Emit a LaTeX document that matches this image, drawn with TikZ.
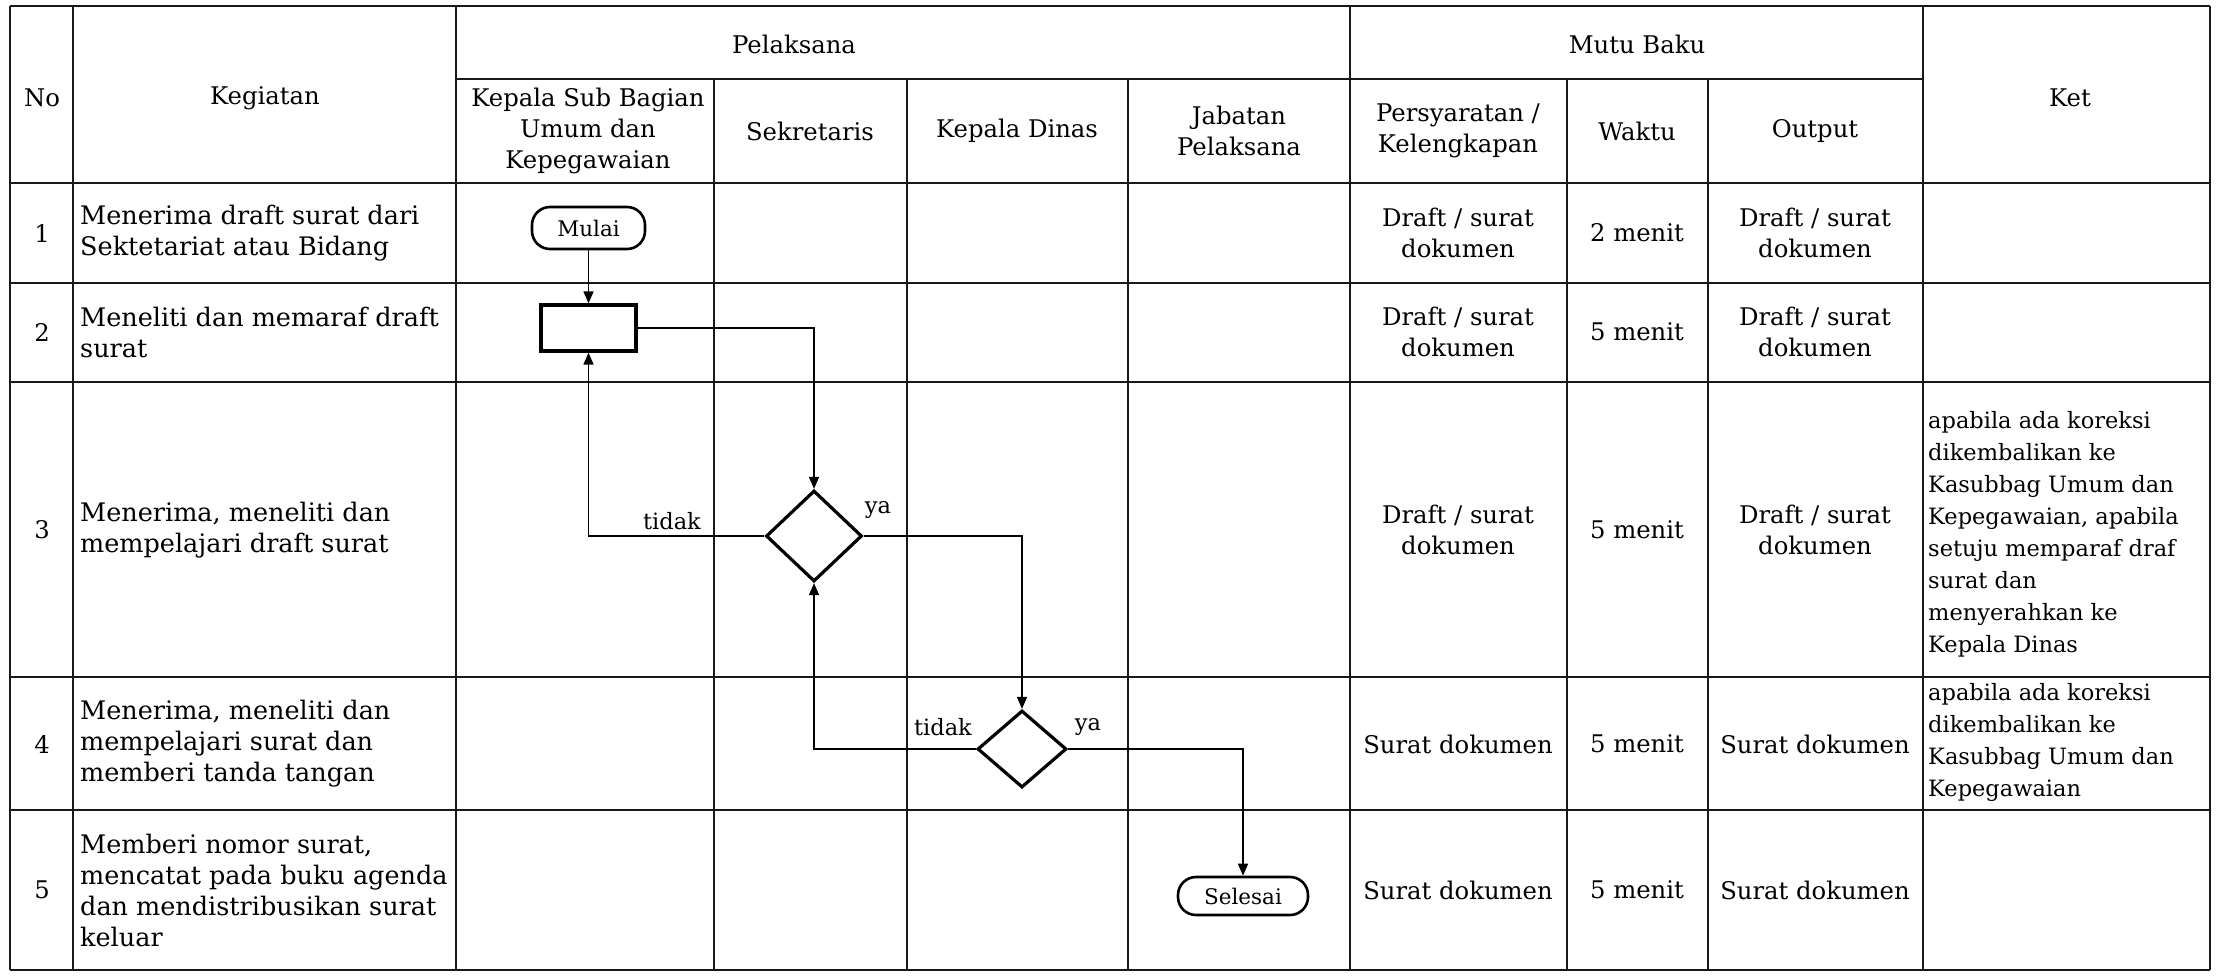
\documentclass[tikz,border=0pt]{standalone}
\usepackage{fontspec}
\setmainfont{DejaVu Serif}
\usetikzlibrary{arrows.meta,shapes.geometric}
\begin{document}
\begin{tikzpicture}[x=1pt,y=-1pt,
  grid/.style={line width=1.9pt, draw=black!90},
  txt/.style={font=\fontsize{24.3}{31}\selectfont, inner sep=0pt, align=center},
  ltxt/.style={font=\fontsize{25.5}{31}\selectfont, inner sep=0pt, align=left, anchor=west},
  ktxt/.style={font=\fontsize{22.5}{32}\selectfont, inner sep=0pt, align=left, anchor=west},
  lbl/.style={font=\fontsize{22.5}{25}\selectfont, inner sep=0pt},
  term/.style={draw, line width=2.6pt, rounded corners=18pt, font=\fontsize{21.5}{25}\selectfont, inner sep=0pt},
  proc/.style={draw, line width=3.2pt, minimum width=95pt, minimum height=46pt, inner sep=0pt},
  dec/.style={draw, diamond, line width=3.2pt, inner sep=0pt},
  conn/.style={line width=1.5pt, -{Triangle[width=10pt,length=12pt]}}]
\useasboundingbox (0,0) rectangle (2218,975);
% table grid
\foreach \yy in {6,183,283,382,677,810,970} \draw[grid] (10,\yy) -- (2210,\yy);
\draw[grid] (456,79) -- (1923,79);
\foreach \xx in {10,73,456,1350,1923,2210} \draw[grid] (\xx,6) -- (\xx,970);
\foreach \xx in {714,907,1128,1567,1708} \draw[grid] (\xx,79) -- (\xx,970);
% headers
\node[txt] (hno) at (42,98) {No};
\node[txt] (hkeg) at (265,98) {Kegiatan};
\node[txt] (hpel) at (794,44) {Pelaksana};
\node[txt] (hmutu) at (1637,44) {Mutu Baku};
\node[txt] (hket) at (2070,98) {Ket};
\node[txt] (hksb) at (588,131) {Kepala Sub Bagian\\Umum dan\\Kepegawaian};
\node[txt] (hsek) at (810,131) {Sekretaris};
\node[txt] (hkd) at (1017,131) {Kepala Dinas};
\node[txt] (hjab) at (1239,131) {Jabatan\\Pelaksana};
\node[txt] (hpers) at (1458,131) {Persyaratan /\\Kelengkapan};
\node[txt] (hwak) at (1637,131) {Waktu};
\node[txt] (hout) at (1815,131) {Output};
% numbers
\node[txt] (n1) at (42,233) {1};
\node[txt] (n2) at (42,332) {2};
\node[txt] (n3) at (42,530) {3};
\node[txt] (n4) at (42,744) {4};
\node[txt] (n5) at (42,890) {5};
% kegiatan
\node[ltxt] (k1) at (80,233) {Menerima draft surat dari\\Sektetariat atau Bidang};
\node[ltxt] (k2) at (80,332) {Meneliti dan memaraf draft\\surat};
\node[ltxt] (k3) at (80,530) {Menerima, meneliti dan\\mempelajari draft surat};
\node[ltxt] (k4) at (80,744) {Menerima, meneliti dan\\mempelajari surat dan\\memberi tanda tangan};
\node[ltxt] (k5) at (80,890) {Memberi nomor surat,\\mencatat pada buku agenda\\dan mendistribusikan surat\\keluar};
% mutu baku
\node[txt] (p1) at (1458,233) {Draft / surat\\dokumen};
\node[txt] (w1) at (1637,233) {2 menit};
\node[txt] (o1) at (1815,233) {Draft / surat\\dokumen};
\node[txt] (p2t) at (1458,332) {Draft / surat\\dokumen};
\node[txt] (w2) at (1637,332) {5 menit};
\node[txt] (o2) at (1815,332) {Draft / surat\\dokumen};
\node[txt] (p3) at (1458,530) {Draft / surat\\dokumen};
\node[txt] (w3) at (1637,530) {5 menit};
\node[txt] (o3) at (1815,530) {Draft / surat\\dokumen};
\node[txt] (p4) at (1458,744) {Surat dokumen};
\node[txt] (w4) at (1637,744) {5 menit};
\node[txt] (o4) at (1815,744) {Surat dokumen};
\node[txt] (p5) at (1458,890) {Surat dokumen};
\node[txt] (w5) at (1637,890) {5 menit};
\node[txt] (o5) at (1815,890) {Surat dokumen};
% ket
\node[ktxt] (ket3) at (1928,534) {apabila ada koreksi\\dikembalikan ke\\Kasubbag Umum dan\\Kepegawaian, apabila\\setuju memparaf draf\\surat dan\\menyerahkan ke\\Kepala Dinas};
\node[ktxt] (ket4) at (1928,742) {apabila ada koreksi\\dikembalikan ke\\Kasubbag Umum dan\\Kepegawaian};
% flowchart
\node[term, minimum width=113pt, minimum height=42pt] (mulai) at (588.5,228) {Mulai};
\node[proc] (box2) at (588.5,328) {};
\node[dec, minimum width=96pt, minimum height=91pt] (d1) at (814,536) {};
\node[dec, minimum width=89pt, minimum height=77pt] (d2) at (1022,749) {};
\node[term, minimum width=130pt, minimum height=38pt] (selesai) at (1243,896) {Selesai};
\draw[conn] (mulai) -- (box2);
\draw[conn] (box2.east) -| (d1.north);
\draw[conn] (d1.west) -| (box2.south);
\draw[conn] (d1.east) -| (d2.north);
\draw[conn] (d2.west) -| (d1.south);
\draw[conn] (d2.east) -| (selesai.north);
\node[lbl, anchor=east] (t1) at (701,521) {tidak};
\node[lbl] (y1) at (878,510) {ya};
\node[lbl] (t2) at (943,727) {tidak};
\node[lbl] (y2) at (1088,727) {ya};
\end{tikzpicture}
\end{document}
